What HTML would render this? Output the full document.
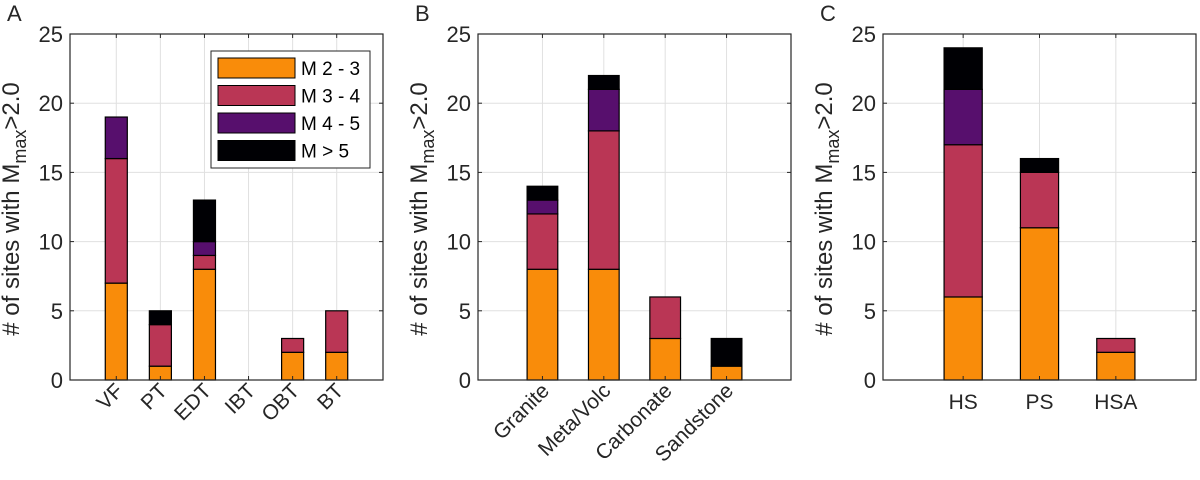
<!DOCTYPE html>
<html><head><meta charset="utf-8"><style>
body{margin:0;background:#fff;width:1200px;height:475px;overflow:hidden}
svg{font-family:"Liberation Sans",Arial,sans-serif}
</style></head><body>
<svg id="chart" width="1200" height="475"></svg>
<script>
const colors=["#F98C0A","#BA3655","#570F6D","#000004"];
const seriesNames=["M 2 - 3","M 3 - 4","M 4 - 5","M > 5"];
const yTicks=[0,5,10,15,20,25];
const catsA=["VF","PT","EDT","IBT","OBT","BT"];
const m23A=[7,1,8,0,2,2];
const m34A=[9,3,1,0,1,3];
const m45A=[3,0,1,0,0,0];
const m5A=[0,1,3,0,0,0];
const catsB=["Granite","Meta/Volc","Carbonate","Sandstone"];
const m23B=[8,8,3,1];
const m34B=[4,10,3,0];
const m45B=[1,3,0,0];
const m5B=[1,1,0,2];
const catsC=["HS","PS","HSA"];
const m23C=[6,11,2];
const m34C=[11,4,1];
const m45C=[4,0,0];
const m5C=[3,1,0];

const NS="http://www.w3.org/2000/svg";
const svg=document.getElementById('chart');
function mk(tag,attrs,parent){const e=document.createElementNS(NS,tag);for(const k in attrs)e.setAttribute(k,attrs[k]);(parent||svg).appendChild(e);return e;}

function panel(id,letter,x0,cats,series,rotate){
  const x1=x0+313,y0=34,yb=380;
  const g=mk('g',{});
  
  
  const n=cats.length;
  const xs=v=>x0+(v+0.05)/(n+1.1)*313;
  const ys=v=>yb-v/25*(yb-y0);
  const unit=313/(n+1.1);
  yTicks.forEach(t=>{const l=mk('line',{x1:x0,x2:x1,y1:ys(t),y2:ys(t),stroke:'#e0e0e0','stroke-width':1},g);
    });
  cats.forEach((c,i)=>{const l=mk('line',{x1:xs(i+1),x2:xs(i+1),y1:y0,y2:yb,stroke:'#e0e0e0','stroke-width':1},g);
    });
  cats.forEach((c,i)=>{
    let base=0;
    series.forEach((s,k)=>{
      const v=s[i];
      if(v>0){
        const r=mk('rect',{x:xs(i+1)-unit*0.25,y:ys(base+v),width:unit*0.5,height:ys(base)-ys(base+v),fill:colors[k],stroke:'#000','stroke-width':1.2},g);
        
        
      }
      base+=v;
    });
  });
  const b=mk('rect',{x:x0,y:y0,width:313,height:yb-y0,fill:'none',stroke:'#262626','stroke-width':1.2},g);
  
  yTicks.forEach(t=>{
    mk('line',{x1:x0,x2:x0+4,y1:ys(t),y2:ys(t),stroke:'#262626'},g);
    mk('line',{x1:x1,x2:x1-4,y1:ys(t),y2:ys(t),stroke:'#262626'},g);
    const tx=mk('text',{x:x0-7,y:ys(t)+8,'text-anchor':'end','font-size':22,fill:'#262626'},g);
    tx.textContent=t;
  });
  cats.forEach((c,i)=>{
    const x=xs(i+1);
    mk('line',{x1:x,x2:x,y1:yb,y2:yb-4,stroke:'#262626'},g);
    mk('line',{x1:x,x2:x,y1:y0,y2:y0+4,stroke:'#262626'},g);
    let tx;
    if(rotate){tx=mk('text',{x:x+8,y:yb+12,'text-anchor':'end','font-size':21,fill:'#262626',transform:`rotate(-45 ${x+8} ${yb+12})`},g);}
    else{tx=mk('text',{x:x,y:yb+29,'text-anchor':'middle','font-size':21,fill:'#262626'},g);}
    tx.textContent=c;
  });
  const tx=x0-51,ty=(y0+yb)/2+2;
  const yt=mk('text',{x:tx,y:ty,'text-anchor':'middle','font-size':24,fill:'#262626',transform:`rotate(-90 ${tx} ${ty})`},g);
  yt.innerHTML='# of sites with M<tspan font-size="18" dy="7">max</tspan><tspan dy="-7">&gt;2.0</tspan>';
  
  const lt=mk('text',{x:x0-63,y:21,'font-size':22,fill:'#262626'},g);
  lt.textContent=letter;
}
panel('a','A',70,catsA,[m23A,m34A,m45A,m5A],true);
panel('b','B',478,catsB,[m23B,m34B,m45B,m5B],true);
panel('c','C',883,catsC,[m23C,m34C,m45C,m5C],false);

const lg=mk('g',{});


mk('rect',{x:211,y:51,width:159,height:117,fill:'#fff',stroke:'#262626','stroke-width':1},lg);
seriesNames.forEach((s,k)=>{
  const y=58+k*27.5;
  const e=mk('g',{},lg);
  
  
  mk('rect',{x:218,y:y,width:77,height:20,fill:colors[k],stroke:'#000','stroke-width':1},e);
  const t=mk('text',{x:301,y:y+17,'font-size':19,fill:'#000'},e);
  t.textContent=s;
});
</script>
</body></html>
